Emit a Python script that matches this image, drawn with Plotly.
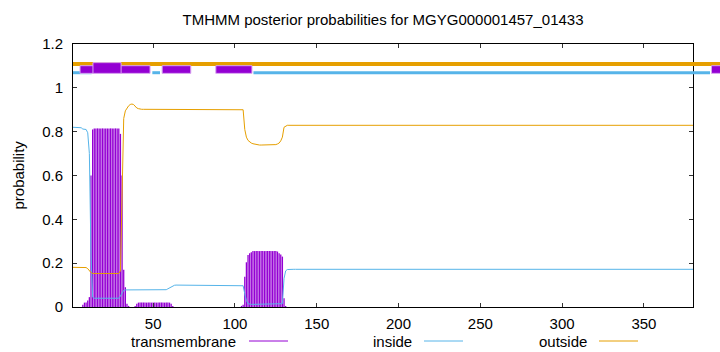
import plotly.graph_objects as go

# ---------------- data ----------------
N_RES = 380
residues = list(range(1, N_RES + 1))

# posterior probabilities, residues 1..135; flat afterwards
tm_head = [
    0, 0, 0, 0, 0, 0, 0.01, 0.02, 0.02, 0.03,
    0.045, 0.6, 0.81, 0.815, 0.815, 0.815, 0.815, 0.815, 0.815, 0.815,
    0.815, 0.815, 0.815, 0.815, 0.815, 0.815, 0.815, 0.815, 0.815, 0.79,
    0.6, 0.17, 0.09, 0.015, 0.005, 0, 0, 0, 0.005, 0.015,
    0.02, 0.02, 0.02, 0.02, 0.02, 0.02, 0.02, 0.02, 0.02, 0.02,
    0.02, 0.02, 0.02, 0.02, 0.02, 0.02, 0.02, 0.02, 0.02, 0.02,
    0.015, 0.005, 0, 0, 0, 0, 0, 0, 0, 0,
    0, 0, 0, 0, 0, 0, 0, 0, 0, 0,
    0, 0, 0, 0, 0, 0, 0, 0, 0, 0,
    0, 0, 0, 0, 0, 0, 0, 0, 0, 0,
    0, 0, 0, 0.005, 0.01, 0.138, 0.204, 0.237, 0.245, 0.25,
    0.255, 0.255, 0.255, 0.255, 0.255, 0.255, 0.255, 0.255, 0.255, 0.255,
    0.255, 0.255, 0.255, 0.255, 0.255, 0.253, 0.245, 0.24, 0.23, 0.04,
    0.005, 0, 0, 0, 0,
]
inside_head = [
    0.82, 0.82, 0.82, 0.82, 0.82, 0.818, 0.812, 0.81, 0.81, 0.795,
    0.7, 0.24, 0.045, 0.04, 0.04, 0.04, 0.04, 0.04, 0.04, 0.04,
    0.04, 0.04, 0.04, 0.04, 0.04, 0.04, 0.04, 0.04, 0.04, 0.05,
    0.065, 0.076, 0.078, 0.078, 0.078, 0.078, 0.078, 0.078, 0.078, 0.078,
    0.078, 0.078, 0.078, 0.078, 0.078, 0.078, 0.078, 0.078, 0.078, 0.078,
    0.078, 0.078, 0.078, 0.078, 0.078, 0.078, 0.078, 0.079, 0.083, 0.088,
    0.093, 0.097, 0.099, 0.1, 0.1, 0.1, 0.1, 0.1, 0.1, 0.1,
    0.1, 0.1, 0.1, 0.1, 0.1, 0.1, 0.1, 0.1, 0.1, 0.1,
    0.1, 0.1, 0.1, 0.1, 0.1, 0.1, 0.1, 0.1, 0.1, 0.1,
    0.1, 0.1, 0.1, 0.1, 0.1, 0.1, 0.1, 0.1, 0.1, 0.1,
    0.1, 0.1, 0.1, 0.1, 0.097, 0.06, 0.03, 0.015, 0.012, 0.012,
    0.012, 0.012, 0.012, 0.012, 0.012, 0.012, 0.012, 0.012, 0.012, 0.012,
    0.012, 0.012, 0.012, 0.012, 0.012, 0.012, 0.012, 0.012, 0.015, 0.13,
    0.165, 0.171, 0.172, 0.172, 0.172,
]
outside_head = [
    0.181, 0.181, 0.181, 0.181, 0.181, 0.181, 0.181, 0.181, 0.18, 0.175,
    0.165, 0.157, 0.153, 0.153, 0.153, 0.153, 0.153, 0.153, 0.153, 0.153,
    0.153, 0.153, 0.153, 0.153, 0.153, 0.153, 0.153, 0.153, 0.153, 0.165,
    0.5, 0.86, 0.895, 0.91, 0.918, 0.924, 0.926, 0.924, 0.915, 0.908,
    0.905, 0.902, 0.902, 0.902, 0.902, 0.902, 0.902, 0.902, 0.902, 0.902,
    0.902, 0.902, 0.902, 0.902, 0.902, 0.902, 0.902, 0.902, 0.902, 0.902,
    0.902, 0.902, 0.902, 0.902, 0.902, 0.902, 0.902, 0.902, 0.902, 0.902,
    0.902, 0.902, 0.902, 0.902, 0.902, 0.902, 0.902, 0.902, 0.902, 0.902,
    0.902, 0.902, 0.902, 0.902, 0.902, 0.902, 0.902, 0.902, 0.902, 0.902,
    0.902, 0.902, 0.902, 0.902, 0.902, 0.902, 0.902, 0.902, 0.902, 0.902,
    0.902, 0.902, 0.902, 0.902, 0.9, 0.81, 0.775, 0.76, 0.752, 0.748,
    0.745, 0.743, 0.741, 0.739, 0.739, 0.739, 0.739, 0.739, 0.739, 0.739,
    0.739, 0.739, 0.739, 0.739, 0.741, 0.744, 0.748, 0.758, 0.775, 0.82,
    0.826, 0.829, 0.829, 0.829, 0.829,
]
tail = N_RES - len(tm_head)
transmembrane = tm_head + [0.0] * tail
inside = inside_head + [0.172] * tail
outside = outside_head + [0.829] * tail

# predicted topology bars along the top (residue start, end)
outside_segments = [(1, 397)]
inside_segments = [(1, 12.4), (49.5, 54.2), (111.3, 390.4)]
tm_segments = [(5.3, 48.1), (55.5, 73.0), (88.3, 110.4), (391.3, 397)]
tm_tall_segments = [(13.2, 30.4)]

x_ticks = [50, 100, 150, 200, 250, 300, 350]
y_ticks = [0, 0.2, 0.4, 0.6, 0.8, 1, 1.2]
y_tick_text = ["0", "0.2", "0.4", "0.6", "0.8", "1", "1.2"]
X_RANGE = [1, 380]
Y_RANGE = [0, 1.2]

title_text = "TMHMM posterior probabilities for MGYG000001457_01433"
legend_names = ["transmembrane", "inside", "outside"]

# ---------------- style ----------------
PURPLE = "#9400D3"
BLUE = "#56B4E9"
ORANGE = "#E69F00"
FONT = "Liberation Sans, Arial, sans-serif"
FS = 15

W, H = 720, 352
ML, MR, MT, MB = 73, 27, 44, 45
PW, PH = W - ML - MR, H - MT - MB


def px_x(p):
    return (p - ML) / PW


def px_y(p):
    return (H - MB - p) / PH


# the top bars run past the right axis (unclipped, as in the original),
# so they are placed in paper units derived from the axis ranges
def xpaper(v):
    return (v - X_RANGE[0]) / (X_RANGE[1] - X_RANGE[0])


def ypaper(v):
    return (v - Y_RANGE[0]) / (Y_RANGE[1] - Y_RANGE[0])


fig = go.Figure()

# impulses for transmembrane
ix, iy = [], []
for r, v in zip(residues, transmembrane):
    if v > 0:
        ix += [r, r, None]
        iy += [0, v, None]
fig.add_trace(go.Scatter(x=ix, y=iy, mode="lines", line=dict(color=PURPLE, width=1.3),
                         name=legend_names[0], showlegend=False, hoverinfo="skip"))
fig.add_trace(go.Scatter(x=residues, y=inside, mode="lines", line=dict(color=BLUE, width=1),
                         name=legend_names[1], showlegend=False))
fig.add_trace(go.Scatter(x=residues, y=outside, mode="lines", line=dict(color=ORANGE, width=1),
                         name=legend_names[2], showlegend=False))

shapes = []
for a, b in outside_segments:
    shapes.append(dict(type="line", xref="paper", yref="paper", x0=xpaper(a), x1=xpaper(b),
                       y0=ypaper(1.109), y1=ypaper(1.109), line=dict(color=ORANGE, width=4)))
for a, b in inside_segments:
    shapes.append(dict(type="line", xref="paper", yref="paper", x0=xpaper(a), x1=xpaper(b),
                       y0=ypaper(1.069), y1=ypaper(1.069), line=dict(color=BLUE, width=3)))
for a, b in tm_segments:
    shapes.append(dict(type="rect", xref="paper", yref="paper", x0=xpaper(a), x1=xpaper(b),
                       y0=ypaper(1.066), y1=ypaper(1.101), fillcolor=PURPLE,
                       line=dict(color="#d9a6f0", width=1)))
for a, b in tm_tall_segments:
    shapes.append(dict(type="rect", xref="paper", yref="paper", x0=xpaper(a), x1=xpaper(b),
                       y0=ypaper(1.066), y1=ypaper(1.115), fillcolor=PURPLE,
                       line=dict(color="#d9a6f0", width=1)))

# key at the bottom (gnuplot style: text then sample line)
key_y = 341
key_items = [(legend_names[0], 238.5, 249, 288, PURPLE),
             (legend_names[1], 413.5, 424, 463, BLUE),
             (legend_names[2], 589, 599, 638, ORANGE)]
annotations = []
for name, tx, l0, l1, col in key_items:
    annotations.append(dict(text=name, xref="paper", yref="paper", x=px_x(tx), y=px_y(key_y),
                            xanchor="right", yanchor="middle", showarrow=False,
                            font=dict(family=FONT, size=FS, color="black")))
    shapes.append(dict(type="line", xref="paper", yref="paper", x0=px_x(l0), x1=px_x(l1),
                       y0=px_y(key_y), y1=px_y(key_y), line=dict(color=col, width=1)))

annotations.append(dict(text="probability", xref="paper", yref="paper", x=px_x(18), y=px_y(175.5),
                        xanchor="center", yanchor="middle", textangle=-90, showarrow=False,
                        font=dict(family=FONT, size=FS, color="black")))

fig.update_layout(
    width=W, height=H,
    margin=dict(l=ML, r=MR, t=MT, b=MB),
    paper_bgcolor="white", plot_bgcolor="white",
    title=dict(text=title_text, x=px_x(383), xref="paper", xanchor="center",
               y=1 - 20 / H, yanchor="middle",
               font=dict(family=FONT, size=FS, color="black")),
    showlegend=False,
    shapes=shapes,
    annotations=annotations,
    xaxis=dict(range=X_RANGE, tickvals=x_ticks, ticks="inside", ticklen=4, tickcolor="#333",
               showline=True, linecolor="black", linewidth=1, mirror="ticks",
               showgrid=False, zeroline=False, ticklabelstandoff=3,
               tickfont=dict(family=FONT, size=FS, color="black")),
    yaxis=dict(range=Y_RANGE, tickvals=y_ticks, ticktext=y_tick_text, ticks="inside", ticklen=4,
               tickcolor="#333", showline=True, linecolor="black", linewidth=1, mirror="ticks",
               showgrid=False, zeroline=False, ticklabelstandoff=6,
               tickfont=dict(family=FONT, size=FS, color="black")),
)

fig.write_html("out.html")
